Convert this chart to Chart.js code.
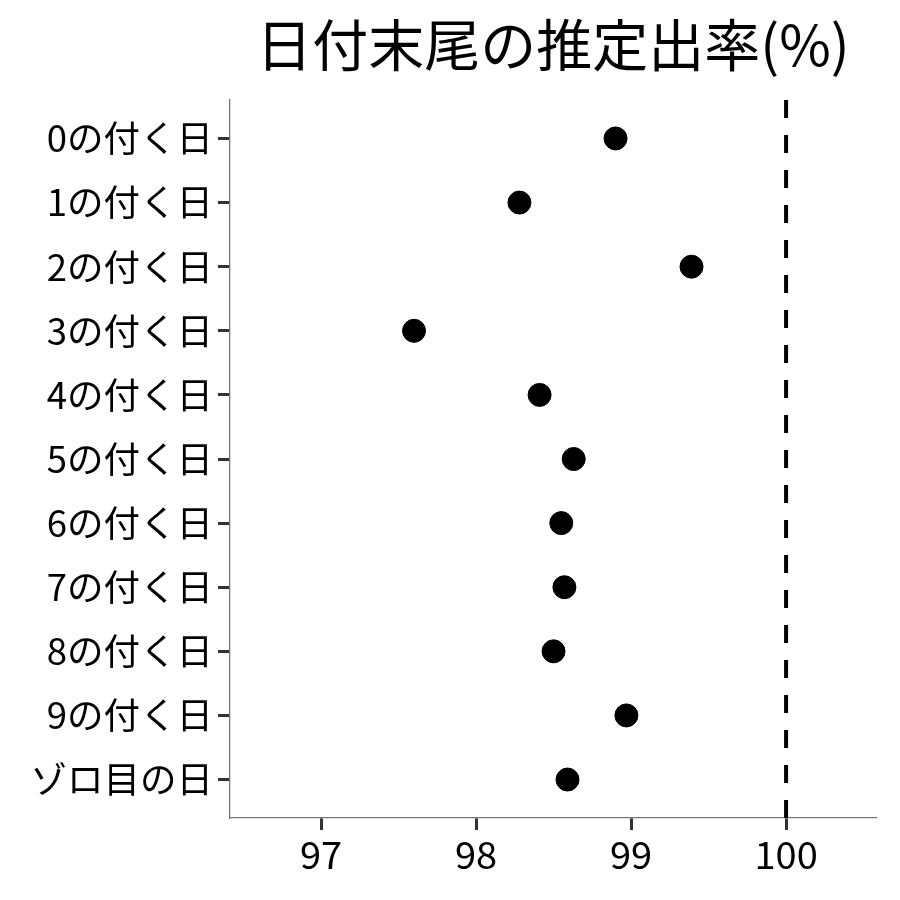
<!DOCTYPE html>
<html>
<head>
<meta charset="utf-8">
<script src="https://cdn.jsdelivr.net/npm/chart.js@4/dist/chart.umd.min.js"></script>
<style>
  html, body { margin: 0; padding: 0; background: #fff; }
  #wrap { width: 900px; height: 900px; }
</style>
</head>
<body>
<div id="wrap"><canvas id="c" width="900" height="900"></canvas></div>
<script>
const titleText = '日付末尾の推定出率(%)';
const categories = ['0の付く日', '1の付く日', '2の付く日', '3の付く日', '4の付く日', '5の付く日',
  '6の付く日', '7の付く日', '8の付く日', '9の付く日', 'ゾロ目の日'];
const rates = [98.90, 98.28, 99.39, 97.60, 98.41, 98.63, 98.55, 98.57, 98.50, 98.97, 98.59];
const xTicks = [97, 98, 99, 100];
const refValue = 100;

const FONT = '"Noto Sans CJK JP", "Noto Sans", sans-serif';

// タイトルはパネル中央に描く
const panelTitle = {
  id: 'panelTitle',
  afterDraw(chart) {
    const { ctx, chartArea } = chart;
    ctx.save();
    ctx.font = '56px ' + FONT;
    ctx.fillStyle = '#000';
    ctx.textAlign = 'center';
    ctx.textBaseline = 'middle';
    ctx.fillText(titleText, (chartArea.left + chartArea.right) / 2, 45);
    ctx.restore();
  }
};

new Chart(document.getElementById('c'), {
  type: 'scatter',
  data: {
    datasets: [
      {
        data: rates.map((v, i) => ({ x: v, y: i })),
        backgroundColor: '#000',
        borderColor: '#000',
        pointRadius: 11.5,
        pointHoverRadius: 11.5
      },
      {
        type: 'line',
        data: [{ x: refValue, y: -0.6 }, { x: refValue, y: categories.length - 0.4 }],
        borderColor: '#000',
        borderWidth: 4,
        borderDash: [18, 17],
        pointRadius: 0,
        fill: false
      }
    ]
  },
  options: {
    responsive: false,
    animation: false,
    layout: { padding: { top: 100, right: 24, left: 0, bottom: 0 } },
    plugins: { legend: { display: false }, title: { display: false }, tooltip: { enabled: false } },
    scales: {
      x: {
        type: 'linear',
        min: 96.413,
        max: 100.58,
        afterBuildTicks: s => { s.ticks = xTicks.map(v => ({ value: v })); },
        afterFit: s => { s.height = 82; },
        grid: { drawOnChartArea: false, tickLength: 12, tickWidth: 3, tickColor: '#333' },
        border: { color: '#777', width: 1.3 },
        ticks: { color: '#000', font: { family: FONT, size: 38 }, padding: 2 }
      },
      y: {
        type: 'linear',
        reverse: true,
        min: -0.6,
        max: categories.length - 0.4,
        afterBuildTicks: s => { s.ticks = categories.map((_, i) => ({ value: i })); },
        afterFit: s => { s.width = 230; },
        grid: { drawOnChartArea: false, tickLength: 12, tickWidth: 3, tickColor: '#333' },
        border: { color: '#777', width: 1.3 },
        ticks: {
          color: '#000',
          font: { family: FONT, size: 36.5 },
          padding: 5,
          callback: v => categories[v]
        }
      }
    }
  },
  plugins: [panelTitle]
});
</script>
</body>
</html>
